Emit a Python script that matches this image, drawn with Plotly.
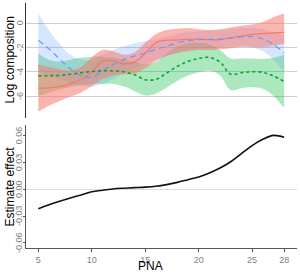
import plotly.graph_objects as go

pna = [5, 6, 7, 8, 9, 10, 11, 12, 13, 14, 15, 16, 17, 18, 19, 20, 21, 22, 23, 24, 25, 26, 27, 28]

red_mean = [-5.34, -5.32, -5.22, -5.0, -4.65, -4.05, -3.12, -3.1, -3.35, -3.2, -2.5, -1.6, -1.4, -1.38, -1.33, -1.3, -1.36, -1.35, -1.2, -1.05, -0.92, -0.85, -0.8, -0.75]
red_upper = [-3.4, -3.6, -3.8, -3.9, -3.6, -2.8, -2.2, -2.3, -2.6, -2.4, -1.6, -0.9, -0.55, -0.45, -0.4, -0.5, -0.55, -0.5, -0.35, -0.2, -0.1, 0.1, 0.5, 0.8]
red_lower = [-7.3, -6.8, -6.4, -6.05, -5.7, -5.2, -4.6, -4.3, -4.2, -4.15, -3.7, -3.1, -2.7, -2.45, -2.3, -2.2, -2.2, -2.15, -2.05, -1.95, -1.95, -1.95, -1.85, -1.7]

green_mean = [-4.33, -4.32, -4.3, -4.2, -4.08, -3.98, -3.92, -3.92, -4.0, -4.25, -4.65, -4.62, -4.1, -3.55, -3.15, -2.9, -2.82, -3.2, -4.2, -4.08, -4.0, -4.05, -4.35, -4.8]
green_upper = [-2.5, -3.0, -3.15, -3.0, -2.85, -2.75, -2.75, -2.85, -3.0, -3.2, -3.4, -3.2, -2.5, -1.9, -1.65, -1.6, -1.75, -2.2, -2.9, -2.9, -2.9, -2.95, -2.85, -2.6]
green_lower = [-6.0, -5.7, -5.45, -5.25, -5.1, -5.0, -5.0, -5.0, -5.2, -5.6, -5.95, -5.8, -5.3, -4.75, -4.3, -4.05, -3.9, -4.3, -5.5, -5.35, -5.25, -5.4, -6.0, -7.0]

blue_mean = [-1.4, -2.1, -2.95, -3.75, -4.3, -4.45, -3.9, -3.4, -3.0, -2.7, -2.45, -2.15, -1.9, -1.62, -1.45, -1.35, -1.32, -1.3, -1.22, -1.13, -1.1, -1.3, -1.75, -2.45]
blue_upper = [0.8, -0.6, -1.7, -2.6, -3.0, -3.0, -2.6, -2.2, -1.9, -1.65, -1.5, -1.3, -1.1, -0.9, -0.75, -0.65, -0.6, -0.6, -0.5, -0.4, -0.4, -0.5, -0.75, -1.0]
blue_lower = [-4.0, -4.3, -4.6, -4.9, -5.1, -5.2, -5.0, -4.6, -4.1, -3.7, -3.4, -3.0, -2.7, -2.4, -2.2, -2.1, -2.05, -2.0, -1.9, -1.9, -2.0, -2.3, -3.0, -4.0]

estimate = [-0.0219, -0.0175, -0.0135, -0.0098, -0.0065, -0.0030, -0.0012, 0.0002, 0.0010, 0.0016, 0.0022, 0.0032, 0.0050, 0.0075, 0.0105, 0.0135, 0.0180, 0.0235, 0.0305, 0.0395, 0.0485, 0.0555, 0.0598, 0.0577]

top_ticks = [0, -2, -4, -6]
top_tick_text = ["0", "-2", "-4", "-6"]
bottom_ticks = [0.06, 0.03, 0.00, -0.03, -0.06]
bottom_tick_text = ["0.06", "0.03", "0.00", "-0.03", "-0.06"]
x_ticks = [5, 10, 15, 20, 25, 28]

fig = go.Figure()

bands = [
    (green_upper, green_lower, "rgba(0,186,56,0.33)"),
    (blue_upper, blue_lower, "rgba(97,156,255,0.25)"),
    (red_upper, red_lower, "rgba(248,118,109,0.55)"),
]
for up, lo, col in bands:
    fig.add_trace(go.Scatter(x=pna, y=up, mode="lines", line=dict(width=0, shape="spline"),
                             xaxis="x", yaxis="y", showlegend=False, hoverinfo="skip"))
    fig.add_trace(go.Scatter(x=pna, y=lo, mode="lines", line=dict(width=0, shape="spline"),
                             fill="tonexty", fillcolor=col,
                             xaxis="x", yaxis="y", showlegend=False, hoverinfo="skip"))

fig.add_trace(go.Scatter(x=pna, y=red_mean, mode="lines",
                         line=dict(color="#F8766D", width=1.2, shape="spline"),
                         xaxis="x", yaxis="y", showlegend=False))
fig.add_trace(go.Scatter(x=pna, y=blue_mean, mode="lines",
                         line=dict(color="#619CFF", width=1.2, shape="spline", dash="6px,4px"),
                         xaxis="x", yaxis="y", showlegend=False))
fig.add_trace(go.Scatter(x=pna, y=green_mean, mode="lines",
                         line=dict(color="#00A630", width=1.6, shape="spline", dash="3px,3px"),
                         xaxis="x", yaxis="y", showlegend=False))

fig.add_trace(go.Scatter(x=pna, y=estimate, mode="lines",
                         line=dict(color="#111111", width=1.6, shape="spline"),
                         xaxis="x2", yaxis="y2", showlegend=False))

font_family = "Liberation Sans, Arial, sans-serif"
tick_font = dict(family=font_family, size=9, color="#808080")

annotations = []
for v, t in zip(top_ticks, top_tick_text):
    annotations.append(dict(text=t, xref="paper", yref="y", x=0, y=v, xshift=-6,
                            textangle=-90, showarrow=False, xanchor="center", yanchor="middle",
                            font=tick_font))
for v, t in zip(bottom_ticks, bottom_tick_text):
    annotations.append(dict(text=t, xref="paper", yref="y2", x=0, y=v, xshift=-7,
                            textangle=-90, showarrow=False, xanchor="center", yanchor="middle",
                            font=tick_font))
annotations += [
    dict(text="Log composition", xref="paper", yref="paper", x=0, y=0.765,
         xshift=-16, textangle=-90, showarrow=False, xanchor="center", yanchor="middle",
         font=dict(family=font_family, size=12, color="black")),
    dict(text="Estimate effect", xref="paper", yref="paper", x=0, y=0.251,
         xshift=-16, textangle=-90, showarrow=False, xanchor="center", yanchor="middle",
         font=dict(family=font_family, size=12, color="black")),
    dict(text="PNA", xref="paper", yref="paper", x=0.458, y=0, yshift=-18,
         showarrow=False, xanchor="center", yanchor="middle",
         font=dict(family=font_family, size=12, color="black")),
]

fig.update_layout(
    width=300, height=273,
    margin=dict(l=26, r=3, t=3, b=25),
    paper_bgcolor="white", plot_bgcolor="white",
    showlegend=False,
    xaxis=dict(domain=[0, 1], range=[3.85, 29.2], visible=False, anchor="y"),
    yaxis=dict(domain=[0.531, 1.0], range=[-7.8, 1.67], anchor="x",
               tickvals=top_ticks, showticklabels=False,
               showgrid=True, gridcolor="#CFCFCF", gridwidth=1,
               zeroline=False, showline=True, linecolor="#333333", linewidth=1,
               ticks="", automargin=False),
    xaxis2=dict(domain=[0, 1], range=[3.85, 29.2], anchor="y2",
                tickvals=x_ticks, ticktext=[str(v) for v in x_ticks],
                tickfont=tick_font, showgrid=False, zeroline=False,
                showline=True, linecolor="#555555", linewidth=1,
                ticks="outside", ticklen=3, tickcolor="#555555", automargin=False),
    yaxis2=dict(domain=[0, 0.502], range=[-0.0656, 0.0714], anchor="x2",
                tickvals=bottom_ticks, showticklabels=False,
                showgrid=False, zeroline=True, zerolinecolor="#DDDDDD", zerolinewidth=1,
                showline=True, linecolor="#555555", linewidth=1,
                ticks="outside", ticklen=2, tickcolor="#555555", automargin=False),
    annotations=annotations,
)

fig.write_html("out.html", config={"displayModeBar": False},
               post_script="document.body.style.margin='0';document.body.style.overflow='hidden';")
